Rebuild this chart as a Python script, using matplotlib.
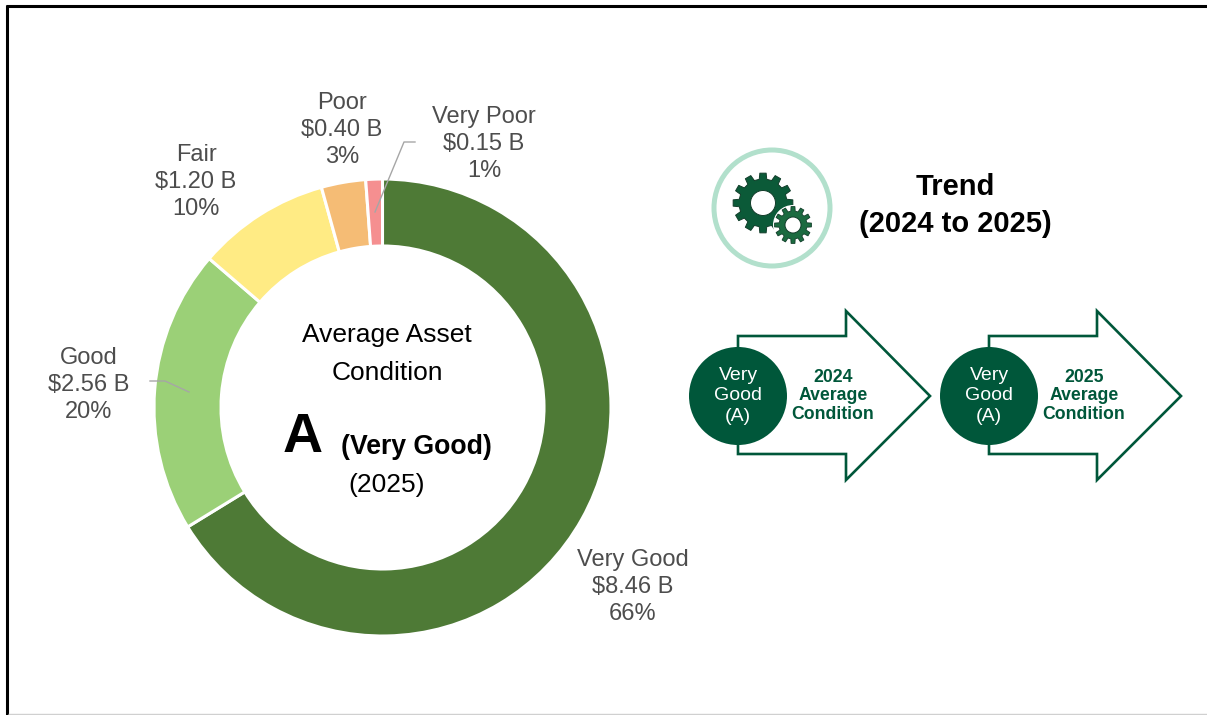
import matplotlib.pyplot as plt
import numpy as np
from matplotlib.patches import Circle, Polygon

plt.rcParams['font.family'] = ['Liberation Sans', 'DejaVu Sans']

W, H = 1207, 715

labels = ['Very Good', 'Good', 'Fair', 'Poor', 'Very Poor']
values = [8.46, 2.56, 1.20, 0.40, 0.15]
amounts = ['$8.46 B', '$2.56 B', '$1.20 B', '$0.40 B', '$0.15 B']
percents = ['66%', '20%', '10%', '3%', '1%']
colors = ['#4E7A36', '#9BD077', '#FFEB84', '#F5BC75', '#F58F90']
label_pos = [(633, 587), (89, 385), (196, 182), (342, 130), (484, 144)]

years = ['2024', '2025']
arrow_x = [0, 251]
condition = 'Very\nGood\n(A)'

DARK = '#00573A'
GREY = '#4D4D4D'

fig = plt.figure(figsize=(W / 100, H / 100), dpi=100)
ax = fig.add_axes([0, 0, 1, 1])

# y axis is flipped so pie angles run the other way
ax.pie(values, colors=colors, center=(382.5, 407.5), radius=228.5, startangle=-90,
       counterclock=True, wedgeprops=dict(width=67, edgecolor='white', linewidth=2.2))
ax.set_xlim(0, W)
ax.set_ylim(H, 0)
ax.set_aspect('auto')
ax.axis('off')

for i in range(len(labels)):
    ax.text(label_pos[i][0], label_pos[i][1], labels[i] + '\n' + amounts[i] + '\n' + percents[i],
            fontsize=17, color=GREY, ha='center', va='center', linespacing=1.27)

# leader lines
ax.plot([375, 404, 415], [212, 142, 142], color='#A6A6A6', lw=1)
ax.plot([150, 165, 189], [381, 381, 392], color='#A6A6A6', lw=1)

# donut centre
ax.text(387, 335, 'Average Asset', fontsize=19, ha='center', va='center')
ax.text(387, 373, 'Condition', fontsize=19, ha='center', va='center')
ax.text(303, 438, 'A', fontsize=40, fontweight='bold', ha='center', va='center')
ax.text(416, 447, '(Very Good)', fontsize=19.2, fontweight='bold', ha='center', va='center')
ax.text(387, 485, '(2025)', fontsize=19, ha='center', va='center')

# trend header
ax.text(955, 187, 'Trend', fontsize=21, fontweight='bold', ha='center', va='center')
ax.text(955, 224, '(2024 to 2025)', fontsize=21, fontweight='bold', ha='center', va='center')


def gear(cx, cy, r_out, r_in, r_hole, teeth, color, edge, lw, z):
    pitch = 2 * np.pi / teeth
    ang = []
    rad = []
    for t in range(teeth):
        ang += [(t - 0.30) * pitch, (t - 0.20) * pitch, (t + 0.20) * pitch, (t + 0.30) * pitch]
        rad += [r_in, r_out, r_out, r_in]
    ang = np.array(ang)
    rad = np.array(rad)
    pts = np.column_stack([cx + rad * np.cos(ang), cy + rad * np.sin(ang)])
    ax.add_patch(Polygon(pts, closed=True, facecolor=color, edgecolor=edge,
                         linewidth=lw, joinstyle='round', zorder=z))
    ax.add_patch(Circle((cx, cy), r_hole, facecolor='white', edgecolor='#123D2A', linewidth=0.7, zorder=z + 1))


ax.add_patch(Circle((772, 208), 58, facecolor='white', edgecolor='#B2E0CC', linewidth=3.6))
gear(763, 203, 30, 24, 12.5, 12, '#0B5A38', '#123D2A', 0.7, 3)
# white ring keeps the small gear apart from the big one
ax.add_patch(Circle((793, 225), 20, facecolor='white', edgecolor='none', zorder=4.5))
gear(793, 225, 18.5, 14, 8, 12, '#1B6B40', '#123D2A', 0.6, 5)

# arrows with the condition circle
for year, dx in zip(years, arrow_x):
    xs = np.array([738, 738, 846, 846, 930, 846, 846, 738, 738]) + dx
    ys = [396, 336, 336, 311, 396, 480, 454, 454, 396]
    ax.plot(xs, ys, color=DARK, lw=1.9, solid_joinstyle='miter')
    ax.add_patch(Circle((738 + dx, 396), 49, facecolor=DARK, edgecolor='none', zorder=3))
    ax.text(738 + dx, 396, condition, fontsize=14, color='white', ha='center', va='center',
            linespacing=1.3, zorder=4)
    ax.text(833 + dx, 396, year + '\nAverage\nCondition', fontsize=12.7, fontweight='bold',
            color=DARK, ha='center', va='center', linespacing=1.08)

# frame of the slide
ax.plot([7, 7], [5, H], color='black', lw=2.2, solid_capstyle='butt')
ax.plot([6, W], [5.5, 5.5], color='black', lw=2.2, solid_capstyle='butt')
ax.plot([8, W], [714, 714], color='#D0D0D0', lw=1, solid_capstyle='butt')

fig.savefig('out.png', dpi=100)
